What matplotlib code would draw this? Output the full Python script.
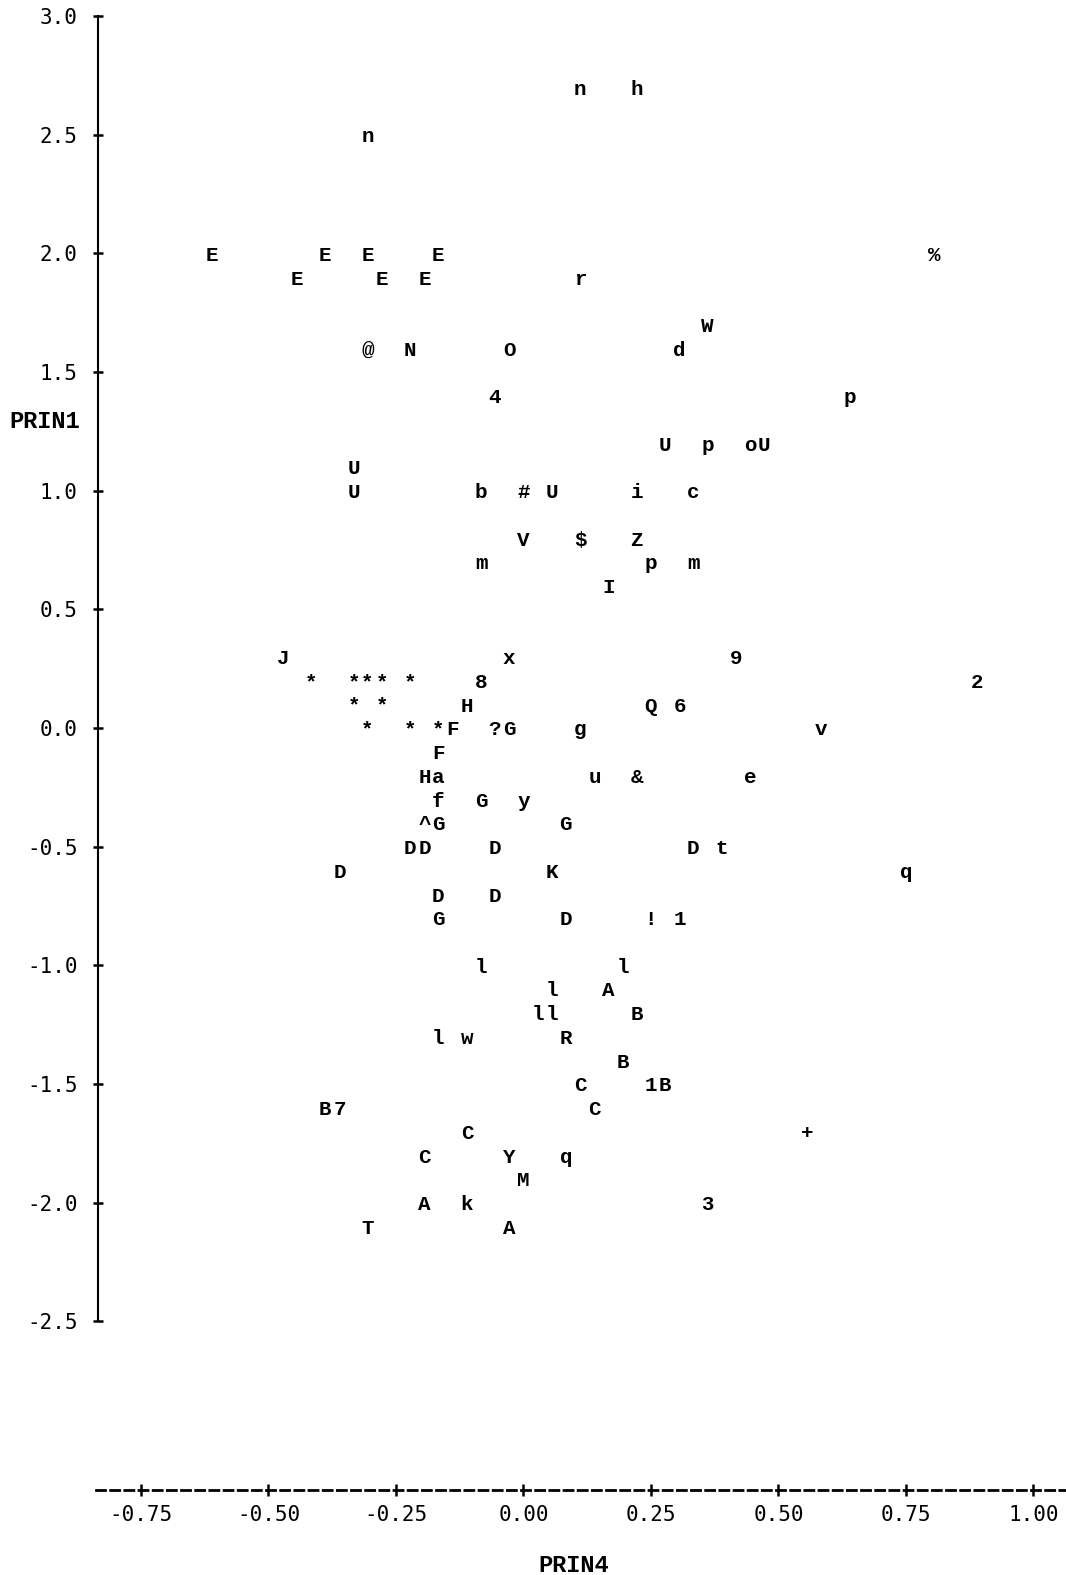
import matplotlib
matplotlib.use("Agg")
import matplotlib.pyplot as plt

plt.rcParams['lines.scale_dashes'] = False

# ---- data: plot symbol, PRIN4 (x) and PRIN1 (y) ----
symbols = ['n', 'h',
           'n',
           'E', 'E', 'E', 'E', '%',
           'E', 'E', 'E', 'r',
           'W',
           '@', 'N', 'O', 'd',
           '4', 'p',
           'U', 'p', 'o', 'U',
           'U',
           'U', 'b', '#', 'U', 'i', 'c',
           'V', '$', 'Z',
           'm', 'p', 'm',
           'I',
           'J', 'x', '9',
           '*', '*', '*', '*', '*', '8', '2',
           '*', '*', 'H', 'Q', '6',
           '*', '*', '*', 'F', '?', 'G', 'g', 'v',
           'F',
           'H', 'a', 'u', '&', 'e',
           'f', 'G', 'y',
           '^', 'G', 'G',
           'D', 'D', 'D', 'D', 't',
           'D', 'K', 'q',
           'D', 'D',
           'G', 'D', '!', '1',
           'l', 'l',
           'l', 'A',
           'l', 'l', 'B',
           'l', 'w', 'R',
           'B',
           'C', '1', 'B',
           'B', '7', 'C',
           'C', '+',
           'C', 'Y', 'q',
           'M',
           'A', 'k', '3',
           'T', 'A']

prin4 = [0.111, 0.222,
         -0.306,
         -0.611, -0.389, -0.306, -0.167, 0.806,
         -0.444, -0.278, -0.194, 0.111,
         0.361,
         -0.306, -0.222, -0.028, 0.306,
         -0.056, 0.639,
         0.278, 0.361, 0.444, 0.472,
         -0.333,
         -0.333, -0.083, 0.000, 0.056, 0.222, 0.333,
         0.000, 0.111, 0.222,
         -0.083, 0.250, 0.333,
         0.167,
         -0.472, -0.028, 0.417,
         -0.417, -0.333, -0.306, -0.278, -0.222, -0.083, 0.889,
         -0.333, -0.278, -0.111, 0.250, 0.306,
         -0.306, -0.222, -0.167, -0.139, -0.056, -0.028, 0.111, 0.583,
         -0.167,
         -0.194, -0.167, 0.139, 0.222, 0.444,
         -0.167, -0.083, 0.000,
         -0.194, -0.167, 0.083,
         -0.222, -0.194, -0.056, 0.333, 0.389,
         -0.361, 0.056, 0.750,
         -0.167, -0.056,
         -0.167, 0.083, 0.250, 0.306,
         -0.083, 0.194,
         0.056, 0.167,
         0.028, 0.056, 0.222,
         -0.167, -0.111, 0.083,
         0.194,
         0.111, 0.250, 0.278,
         -0.389, -0.361, 0.139,
         -0.111, 0.556,
         -0.194, -0.028, 0.083,
         0.000,
         -0.194, -0.111, 0.361,
         -0.306, -0.028]

prin1 = [2.7, 2.7,
         2.5,
         2.0, 2.0, 2.0, 2.0, 2.0,
         1.9, 1.9, 1.9, 1.9,
         1.7,
         1.6, 1.6, 1.6, 1.6,
         1.4, 1.4,
         1.2, 1.2, 1.2, 1.2,
         1.1,
         1.0, 1.0, 1.0, 1.0, 1.0, 1.0,
         0.8, 0.8, 0.8,
         0.7, 0.7, 0.7,
         0.6,
         0.3, 0.3, 0.3,
         0.2, 0.2, 0.2, 0.2, 0.2, 0.2, 0.2,
         0.1, 0.1, 0.1, 0.1, 0.1,
         0.0, 0.0, 0.0, 0.0, 0.0, 0.0, 0.0, 0.0,
         -0.1,
         -0.2, -0.2, -0.2, -0.2, -0.2,
         -0.3, -0.3, -0.3,
         -0.4, -0.4, -0.4,
         -0.5, -0.5, -0.5, -0.5, -0.5,
         -0.6, -0.6, -0.6,
         -0.7, -0.7,
         -0.8, -0.8, -0.8, -0.8,
         -1.0, -1.0,
         -1.1, -1.1,
         -1.2, -1.2, -1.2,
         -1.3, -1.3, -1.3,
         -1.4,
         -1.5, -1.5, -1.5,
         -1.6, -1.6, -1.6,
         -1.7, -1.7,
         -1.8, -1.8, -1.8,
         -1.9,
         -2.0, -2.0, -2.0,
         -2.1, -2.1]

x_ticks = [-0.75, -0.50, -0.25, 0.00, 0.25, 0.50, 0.75, 1.00]
x_tick_labels = ['-0.75', '-0.50', '-0.25', '0.00', '0.25', '0.50', '0.75', '1.00']
y_ticks = [3.0, 2.5, 2.0, 1.5, 1.0, 0.5, 0.0, -0.5, -1.0, -1.5, -2.0, -2.5]
y_tick_labels = ['3.0', '2.5', '2.0', '1.5', '1.0', '0.5', '0.0',
                 '-0.5', '-1.0', '-1.5', '-2.0', '-2.5']

# ---- figure ----
fig = plt.figure(figsize=(10.66, 15.75), dpi=100)
ax = fig.add_axes([0, 0, 1, 1])
ax.set_xlim(-1.02647, 1.06373)
ax.set_ylim(-3.5696, 3.0674)
ax.patch.set_visible(False)

for s in ('top', 'right'):
    ax.spines[s].set_visible(False)

ax.spines['left'].set_position(('data', -0.834))
ax.spines['left'].set_bounds(-2.5, 3.0)
ax.spines['left'].set_linewidth(1.5)

ax.spines['bottom'].set_position(('data', -3.2116))
ax.spines['bottom'].set_bounds(-0.8382, 1.0637)
ax.spines['bottom'].set_linewidth(2.0)
ax.spines['bottom'].set_linestyle((0, (6.5, 3.7)))

ax.set_xticks(x_ticks)
ax.set_xticklabels(x_tick_labels, fontfamily='DejaVu Sans Mono', fontsize=15)
ax.set_yticks(y_ticks)
ax.set_yticklabels(y_tick_labels, fontfamily='DejaVu Sans Mono', fontsize=15)
ax.tick_params(axis='x', direction='inout', length=8, width=1.8, pad=7)
ax.tick_params(axis='y', direction='inout', length=7.5, width=1.8, pad=11)

for ch, xv, yv in zip(symbols, prin4, prin1):
    ax.text(xv, yv, ch, ha='center', va='center_baseline',
            fontfamily='Liberation Mono', fontweight='bold', fontsize=15)

ax.set_xlabel('PRIN4', fontfamily='Liberation Mono', fontweight='bold', fontsize=17)
ax.xaxis.set_label_coords(574 / 1066, 1 - 1565 / 1575)
ax.xaxis.label.set_va('center')
ax.set_ylabel('PRIN1', fontfamily='Liberation Mono', fontweight='bold', fontsize=17,
              rotation=0)
ax.yaxis.set_label_coords(45 / 1066, 1 - 421 / 1575)
ax.yaxis.label.set_va('center')
ax.yaxis.label.set_ha('center')

fig.savefig('out.png', dpi=100, facecolor='white')
